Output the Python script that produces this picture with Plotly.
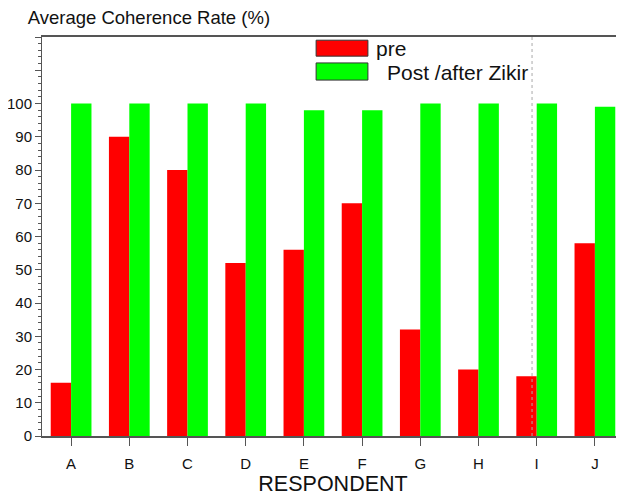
import plotly.graph_objects as go

respondents = ["A", "B", "C", "D", "E", "F", "G", "H", "I", "J"]
pre_values = [16, 90, 80, 52, 56, 70, 32, 20, 18, 58]
post_values = [100, 100, 100, 100, 98, 98, 100, 100, 100, 99]
series_names = ["pre", "Post /after Zikir"]
y_tick_values = [0, 10, 20, 30, 40, 50, 60, 70, 80, 90, 100, 110, 120]
y_tick_labels = ["0", "10", "20", "30", "40", "50", "60", "70", "80", "90", "100", "", ""]

RED = "#ff0000"
GREEN = "#00ff00"
FONT = "Liberation Sans, Arial, sans-serif"

fig = go.Figure()
fig.add_trace(go.Bar(x=respondents, y=pre_values, name=series_names[0],
                     marker=dict(color=RED, line=dict(width=0)), showlegend=False))
fig.add_trace(go.Bar(x=respondents, y=post_values, name=series_names[1],
                     marker=dict(color=GREEN, line=dict(width=0)), showlegend=False))

# custom legend (big rectangles like the reference)
legend_items = [(series_names[0], RED, 0.992, 0.952, 0.972, 0.570),
                (series_names[1], GREEN, 0.935, 0.892, 0.912, 0.590)]
for name, col, y1, y0, ty, tx in legend_items:
    fig.add_shape(type="rect", xref="paper", yref="paper", x0=0.471, x1=0.560,
                  y0=y0, y1=y1, fillcolor=col, line=dict(color="#333333", width=1))
    fig.add_annotation(xref="paper", yref="paper", x=tx, y=ty, text=name,
                       showarrow=False, xanchor="left", yanchor="middle",
                       font=dict(size=21, color="#111111", family=FONT))

# dotted vertical line
fig.add_shape(type="line", xref="paper", yref="paper", x0=0.842, x1=0.842, y0=0, y1=1,
              line=dict(color="#aaaaaa", width=1, dash="dot"))

fig.update_layout(
    width=616, height=489,
    margin=dict(l=34, r=0, t=29, b=61, autoexpand=False),
    paper_bgcolor="white", plot_bgcolor="white",
    barmode="group", bargap=0.3, bargroupgap=0,
    font=dict(family=FONT, color="#111111"),
    title=dict(text="Average Coherence Rate (%)", x=0.032, xanchor="left", xref="container",
               y=0.98, yanchor="middle", automargin=False, pad=dict(l=0, r=0, t=0, b=0),
               font=dict(size=18.5, family=FONT, color="#111111")),
    xaxis=dict(showgrid=False, showline=True, linecolor="#555555", linewidth=1.5,
               mirror=True, ticks="outside", ticklen=8, tickcolor="#555555", automargin=False,
               ticklabelstandoff=5,
               tickfont=dict(size=15, color="#111111"),
               title=dict(text="RESPONDENT", font=dict(size=21.5, color="#111111"), standoff=2)),
    yaxis=dict(range=[0, 120], showgrid=False, showline=True, linecolor="#555555",
               linewidth=1, ticks="outside", ticklen=6, tickcolor="#555555", automargin=False,
               tickvals=y_tick_values, ticktext=y_tick_labels, ticklabelstandoff=0,
               tickfont=dict(size=15, color="#111111"), zeroline=False,
               minor=dict(dtick=2, ticks="outside", ticklen=3, tickcolor="#555555")),
)

fig.write_html("out.html")
